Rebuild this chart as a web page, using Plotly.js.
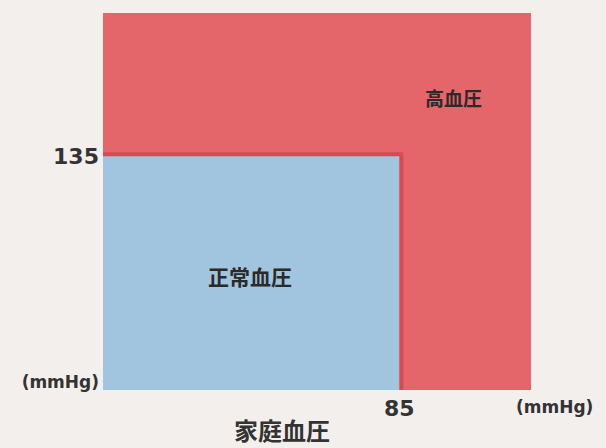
<!DOCTYPE html>
<html>
<head>
<meta charset="utf-8">
<script src="https://cdn.plot.ly/plotly-3.0.1.min.js"></script>
<style>
html,body{margin:0;padding:0;background:#f3efec;}
#chart{width:606px;height:448px;}
</style>
</head>
<body>
<div id="chart"></div>
<script>
// Zones (home blood pressure classification)
const zoneNames = ['高血圧', '正常血圧'];
const zoneColors = ['#e4656a', '#a2c5df'];
// Upper bounds of each zone: diastolic (x, mmHg) and systolic (y, mmHg)
const diaUpper = [105, 85];
const sysUpper = [181, 135];
// Axis lower bounds
const diaMin = 40;
const sysMin = 60;
// Tick labels
const xTickVals = [85];
const xTickText = ['85'];
const yTickVals = [63, 135];
const yTickText = ['<span style="font-size:17px">(mmHg)</span>', '135'];
const unitLabel = '(mmHg)';
const xTitle = '家庭血圧';

function rect(i) {
  return {
    type: 'scatter', mode: 'lines',
    x: [diaMin, diaUpper[i], diaUpper[i], diaMin, diaMin],
    y: [sysMin, sysMin, sysUpper[i], sysUpper[i], sysMin],
    fill: 'toself', fillcolor: zoneColors[i],
    line: {width: 0, color: zoneColors[i]},
    hoverinfo: 'skip', showlegend: false
  };
}

const edge = {
  type: 'scatter', mode: 'lines',
  x: [diaMin, diaUpper[1], diaUpper[1]],
  y: [sysUpper[1], sysUpper[1], sysMin],
  line: {width: 8, color: '#d84a50'},
  hoverinfo: 'skip', showlegend: false
};

const data = [rect(0), edge, rect(1)];

const cjk = '"Noto Sans CJK JP", "Noto Sans CJK SC", sans-serif';
const num = '"DejaVu Sans", sans-serif';

const layout = {
  width: 606, height: 448,
  margin: {l: 103, r: 75, t: 13, b: 58},
  paper_bgcolor: '#f3efec', plot_bgcolor: '#f3efec',
  showlegend: false,
  xaxis: {
    range: [diaMin, diaUpper[0]], showgrid: false, zeroline: false, showline: false,
    tickvals: xTickVals, ticktext: xTickText, ticks: '', ticklabelstandoff: 3,
    tickfont: {family: num, size: 22, color: '#333', weight: 'bold'}, fixedrange: true
  },
  yaxis: {
    range: [sysMin, sysUpper[0]], showgrid: false, zeroline: false, showline: false,
    tickvals: yTickVals, ticktext: yTickText, ticks: '', ticklabelstandoff: 3,
    tickfont: {family: num, size: 22, color: '#333', weight: 'bold'}, fixedrange: true
  },
  annotations: [
    {x: 93.2, y: 154, xref: 'x', yref: 'y', text: zoneNames[0], showarrow: false,
     xanchor: 'center', yanchor: 'middle',
     font: {family: cjk, size: 19, color: '#2a2a2a', weight: 'bold'}},
    {x: 62.3, y: 96.6, xref: 'x', yref: 'y', text: zoneNames[1], showarrow: false,
     xanchor: 'center', yanchor: 'middle',
     font: {family: cjk, size: 21, color: '#2a2a2a', weight: 'bold'}},
    {x: 1.056, y: -0.045, xref: 'paper', yref: 'paper', text: unitLabel, showarrow: false,
     xanchor: 'center', yanchor: 'middle',
     font: {family: num, size: 17, color: '#333', weight: 'bold'}},
    {x: 0.418, y: -0.104, xref: 'paper', yref: 'paper', text: xTitle, showarrow: false,
     xanchor: 'center', yanchor: 'middle',
     font: {family: cjk, size: 24, color: '#333', weight: 'bold'}}
  ]
};

Plotly.newPlot('chart', data, layout, {displayModeBar: false, staticPlot: true});
</script>
</body>
</html>
